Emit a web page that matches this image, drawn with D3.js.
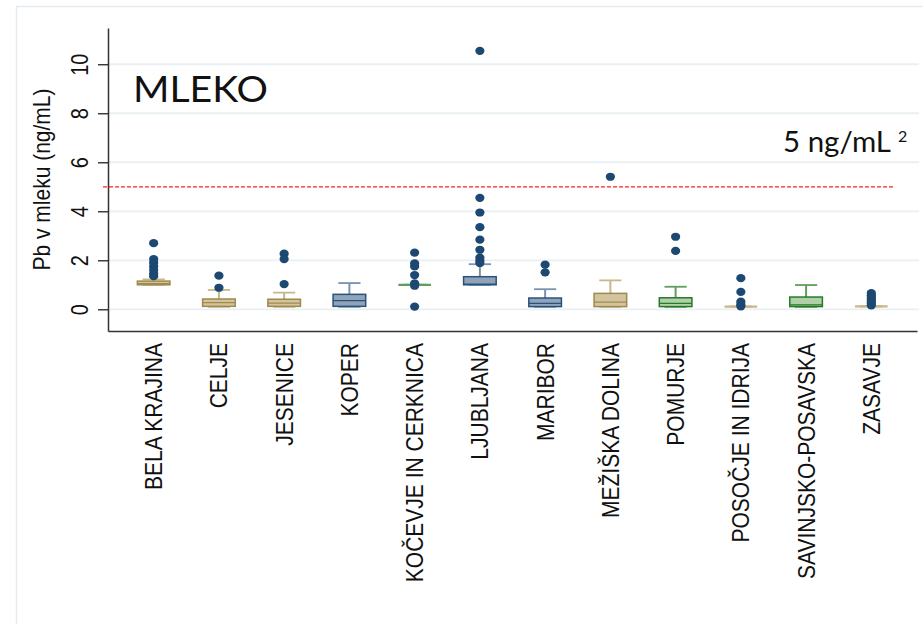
<!DOCTYPE html>
<html>
<head>
<meta charset="utf-8">
<script src="https://cdn.jsdelivr.net/npm/d3@7"></script>
<style>
  html, body { margin: 0; padding: 0; background: #fff; }
  svg { display: block; }
</style>
</head>
<body>
<script>
// Lead (Pb) in milk by region: box plots with outliers
const categories = ["BELA KRAJINA", "CELJE", "JESENICE", "KOPER", "KOČEVJE IN CERKNICA", "LJUBLJANA",
  "MARIBOR", "MEŽIŠKA DOLINA", "POMURJE", "POSOČJE IN IDRIJA", "SAVINJSKO-POSAVSKA", "ZASAVJE"];
const colourGroup = ["tan", "tan", "tan", "blue", "green", "blue", "blue", "tan", "green", "tan", "green", "tan"];

const lowerWhisker = [1.00, 0.10, 0.10, 0.10, 1.00, 1.00, 0.10, 0.10, 0.10, 0.11, 0.10, 0.12];
const q1           = [1.00, 0.12, 0.12, 0.12, 1.00, 1.00, 0.11, 0.11, 0.11, 0.11, 0.11, 0.12];
const median       = [1.05, 0.27, 0.25, 0.35, 1.00, 1.03, 0.24, 0.29, 0.24, 0.11, 0.18, 0.12];
const q3           = [1.15, 0.42, 0.41, 0.61, 1.00, 1.33, 0.46, 0.65, 0.47, 0.11, 0.50, 0.12];
const upperWhisker = [1.22, 0.79, 0.68, 1.07, 1.00, 1.84, 0.82, 1.18, 0.92, 0.11, 0.99, 0.12];
const outliers = [
  [2.70, 2.05, 1.90, 1.75, 1.60, 1.45, 1.35],
  [1.37, 0.88],
  [2.27, 2.05, 1.03],
  [],
  [2.31, 1.87, 1.75, 1.40, 1.06, 0.96, 0.11],
  [10.55, 4.55, 3.95, 3.35, 2.84, 2.43, 2.11, 1.99, 1.89],
  [1.82, 1.51],
  [5.41],
  [2.96, 2.38],
  [1.27, 0.71, 0.31, 0.20, 0.12],
  [],
  [0.66, 0.57, 0.48, 0.40, 0.32, 0.24, 0.16]
];

const yTicks = [0, 2, 4, 6, 8, 10];
const yTitle = "Pb v mleku (ng/mL)";
const panelTitle = "MLEKO";
const limitValue = 5;
const limitLabel = "5 ng/mL";
const limitNote = "2";

const palette = {
  tan:   { fill: "#d3c49f", stroke: "#9f8a4c", whisker: "#c7b78c" },
  blue:  { fill: "#8fa4bb", stroke: "#2b5279", whisker: "#7b93ad" },
  green: { fill: "#afd0a8", stroke: "#267a26", whisker: "#5e9f5e" }
};
const dotColour = "#1c4872";
const SX = 1.16; // slight horizontal stretch of the lettering

const W = 923, H = 624;
const plot = { left: 108, right: 917, top: 28, bottom: 331 };

const svg = d3.select("body").append("svg")
  .attr("width", W).attr("height", H);

const x = d3.scaleBand().domain(categories)
  .range([plot.left, plot.right]).paddingInner(0.5).paddingOuter(0.45);
const y = d3.scaleLinear().domain([-0.886, 11.48]).range([plot.bottom, plot.top]);

// outer frame (top and left edges)
svg.append("path")
  .attr("d", `M16.5,${H} V6.5 H${W}`)
  .attr("fill", "none").attr("stroke", "#e4ecf1").attr("stroke-width", 1.5);

// gridlines
svg.append("g").selectAll("line").data(yTicks).join("line")
  .attr("x1", plot.left).attr("x2", 919)
  .attr("y1", d => y(d)).attr("y2", d => y(d))
  .attr("stroke", "#e9eff2").attr("stroke-width", 1.8);

// limit line
svg.append("line")
  .attr("x1", 103).attr("x2", 895)
  .attr("y1", y(limitValue)).attr("y2", y(limitValue))
  .attr("stroke", "#ff2020").attr("stroke-width", 1.3)
  .attr("stroke-dasharray", "4,2");

// boxes
const bw = x.bandwidth();
const capW = bw * 0.68;
const boxes = svg.append("g").selectAll("g").data(categories).join("g")
  .attr("transform", d => `translate(${x(d) + bw / 2},0)`);

boxes.each(function (d, i) {
  const g = d3.select(this);
  const c = palette[colourGroup[i]];
  // whiskers
  g.append("line").attr("x1", 0).attr("x2", 0)
    .attr("y1", y(upperWhisker[i])).attr("y2", y(q3[i]))
    .attr("stroke", c.whisker).attr("stroke-width", 2);
  g.append("line").attr("x1", 0).attr("x2", 0)
    .attr("y1", y(lowerWhisker[i])).attr("y2", y(q1[i]))
    .attr("stroke", c.whisker).attr("stroke-width", 2);
  // caps
  [upperWhisker[i], lowerWhisker[i]].forEach(v => {
    g.append("line").attr("x1", -capW / 2).attr("x2", capW / 2)
      .attr("y1", y(v)).attr("y2", y(v))
      .attr("stroke", c.whisker).attr("stroke-width", 1.8);
  });
  const collapsed = (q3[i] - q1[i]) < 0.005;
  if (!collapsed) {
    g.append("rect")
      .attr("x", -bw / 2).attr("width", bw)
      .attr("y", y(q3[i])).attr("height", y(q1[i]) - y(q3[i]))
      .attr("fill", c.fill).attr("stroke", c.stroke).attr("stroke-width", 1.5);
    g.append("line").attr("x1", -bw / 2).attr("x2", bw / 2)
      .attr("y1", y(median[i])).attr("y2", y(median[i]))
      .attr("stroke", c.stroke).attr("stroke-width", 1.2);
  } else {
    g.append("line").attr("x1", -bw / 2).attr("x2", bw / 2)
      .attr("y1", y(median[i])).attr("y2", y(median[i]))
      .attr("stroke", c.whisker).attr("stroke-width", 2.2);
  }
  // outliers
  g.selectAll("ellipse").data(outliers[i]).join("ellipse")
    .attr("cx", 0).attr("cy", v => y(v))
    .attr("rx", 4.6).attr("ry", 4.1)
    .attr("fill", dotColour);
});

// y axis
const yAxis = svg.append("g")
  .attr("transform", `translate(${plot.left},0)`)
  .call(d3.axisLeft(y).tickValues(yTicks).tickSize(10).tickSizeOuter(0).tickFormat(d3.format("d")));
yAxis.select(".domain").attr("stroke", "#333").attr("stroke-width", 1.5);
yAxis.selectAll(".tick line").attr("stroke", "#222").attr("stroke-width", 1.3);
yAxis.selectAll(".tick text")
  .attr("x", 0).attr("y", 0).attr("dy", 0)
  .attr("transform", `translate(-20,0) scale(${SX},1) rotate(-90)`)
  .attr("text-anchor", "middle")
  .attr("font-family", "'Liberation Sans', Arial, sans-serif")
  .attr("font-size", 20).attr("fill", "#111");

// x axis
const xAxis = svg.append("g")
  .attr("transform", `translate(0,${plot.bottom})`)
  .call(d3.axisBottom(x).tickSize(0).tickSizeOuter(0));
xAxis.select(".domain").attr("stroke", "#333").attr("stroke-width", 1.5);
xAxis.selectAll(".tick text")
  .attr("x", 0).attr("y", 0).attr("dy", "0.35em")
  .attr("transform", `translate(0,12) scale(${SX},1) rotate(-90)`)
  .attr("text-anchor", "end")
  .attr("font-family", "'Liberation Sans', Arial, sans-serif")
  .attr("font-size", 21).attr("fill", "#111");

// y axis title
svg.append("text")
  .attr("transform", `translate(50,${(plot.top + plot.bottom) / 2}) scale(${SX},1) rotate(-90)`)
  .attr("text-anchor", "middle")
  .attr("font-family", "'Liberation Sans', Arial, sans-serif")
  .attr("font-size", 21).attr("fill", "#111")
  .text(yTitle);

// panel title
svg.append("text")
  .attr("x", 133).attr("y", 102)
  .attr("font-family", "Lato, 'Open Sans', sans-serif")
  .attr("font-size", 36).attr("fill", "#111")
  .attr("textLength", 135).attr("lengthAdjust", "spacingAndGlyphs")
  .text(panelTitle);

// limit annotation
svg.append("text")
  .attr("x", 783).attr("y", 152)
  .attr("font-family", "Lato, 'Open Sans', sans-serif")
  .attr("font-size", 28).attr("fill", "#111")
  .attr("textLength", 108).attr("lengthAdjust", "spacingAndGlyphs")
  .text(limitLabel);
svg.append("text")
  .attr("x", 898).attr("y", 142)
  .attr("font-family", "Lato, 'Open Sans', sans-serif")
  .attr("font-size", 16).attr("fill", "#111")
  .text(limitNote);
</script>
</body>
</html>
